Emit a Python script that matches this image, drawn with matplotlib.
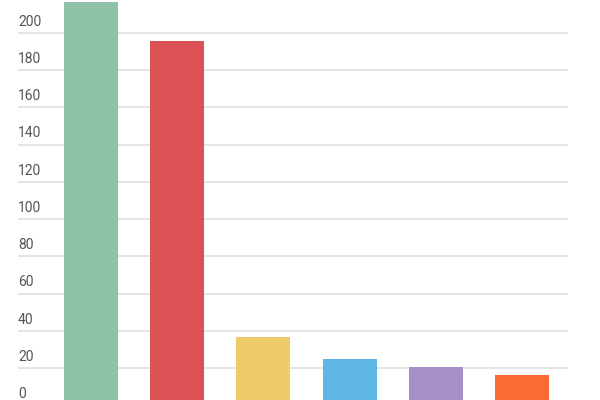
import matplotlib.pyplot as plt
import numpy as np

categories = ['A', 'B', 'C', 'D', 'E', 'F']
values = [216.5, 195.5, 37, 25, 20.5, 16.5]
colors = ['#8fc2a8', '#da5156', '#eecb6b', '#5eb6e4', '#a88fc7', '#fb6a35']
yticks = [0, 20, 40, 60, 80, 100, 120, 140, 160, 180, 200]

fig = plt.figure(figsize=(6, 4), dpi=100)
# axes runs a little below the bottom edge, like the cropped original
ax = fig.add_axes([0.03, -0.01375, 0.917, 1.0245])
x = np.arange(len(categories))
ax.bar(x, values, width=0.625, color=colors, zorder=2)
ax.set_xlim(-0.84, 5.53)
ax.set_ylim(0, 220)

for t in yticks:
    ax.axhline(t, color='#e3e3e3', lw=1.3, zorder=1)
    ax.text(0.0, t + 2.3, str(t), transform=ax.get_yaxis_transform(),
            ha='left', va='bottom', fontsize=10, color='#555555', family='Roboto')

ax.set_xticks([])
ax.set_yticks([])
for s in ax.spines.values():
    s.set_visible(False)

fig.savefig('out.png', dpi=100)
